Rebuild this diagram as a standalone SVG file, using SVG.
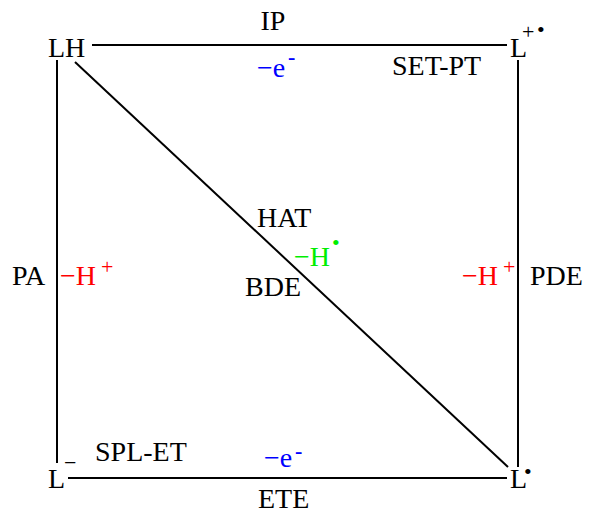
<svg xmlns="http://www.w3.org/2000/svg" width="590" height="513" viewBox="0 0 590 513">
<style>
text{font-family:"Liberation Serif","Times New Roman",serif;font-size:28px;fill:#000}
.sup{font-size:22px}
.dot{font-size:22px}
.blue{fill:#0000ff}
.red{fill:#ff0000}
.green{fill:#00ee00}
line{stroke:#000;stroke-width:2}
</style>
<rect width="590" height="513" fill="#fff"/>
<g id="connectors">
<line x1="92" y1="45" x2="507" y2="45"/>
<line x1="57" y1="60" x2="57" y2="463"/>
<line x1="518" y1="60" x2="518" y2="467"/>
<line x1="68" y1="478" x2="507" y2="478"/>
<line x1="75" y1="62" x2="508" y2="467"/>
<text x="273" y="30" text-anchor="middle">IP</text>
<text x="257" y="77" class="blue" font-size="29">−e</text>
<text x="288" y="64" class="sup blue" font-weight="bold">-</text>
<text x="392" y="75">SET-PT</text>
<text x="257" y="227">HAT</text>
<text x="294" y="266" class="green">−H</text>
<text x="332" y="250" class="dot green">•</text>
<text x="245" y="296">BDE</text>
<text x="12" y="285">PA</text>
<text x="60" y="285" class="red">−H</text>
<text x="101" y="274" class="sup red" font-size="24">+</text>
<text x="462" y="285" class="red">−H</text>
<text x="503" y="274" class="sup red" font-size="24">+</text>
<text x="530" y="285">PDE</text>
<text x="95" y="461">SPL-ET</text>
<text x="264" y="467" class="blue" font-size="29">−e</text>
<text x="295" y="458" class="sup blue" font-weight="bold">-</text>
<text x="258" y="508">ETE</text>
</g>
<g id="node-LH">
<text x="48" y="57">LH</text>
</g>
<g id="node-Lradcat">
<text x="510" y="57">L</text>
<text x="522" y="39" class="sup" font-size="24">+</text>
<text x="537" y="37" class="dot">•</text>
</g>
<g id="node-Lanion">
<text x="48" y="488">L</text>
<text x="64" y="470" class="sup" font-size="24">−</text>
</g>
<g id="node-Lrad">
<text x="510" y="488">L</text>
<text x="524" y="479" class="dot">•</text>
</g>
</svg>
